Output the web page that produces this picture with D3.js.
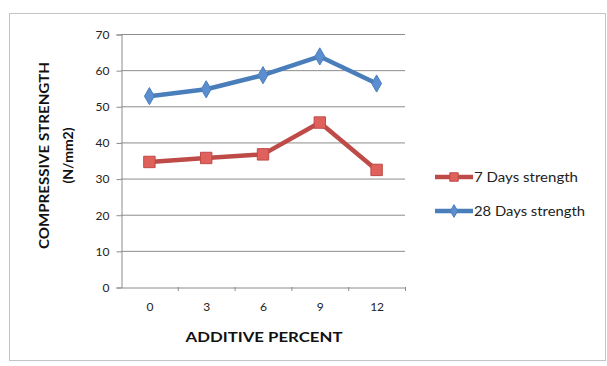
<!DOCTYPE html>
<html>
<head>
<meta charset="utf-8">
<script src="https://cdn.jsdelivr.net/npm/d3@7"></script>
<style>
  body { margin: 0; background: #fff; }
  svg { display: block; font-family: Lato, "Open Sans", sans-serif; }
</style>
</head>
<body>
<script>
const categories = ['0', '3', '6', '9', '12'];
const days7 = [34.6, 35.7, 36.7, 45.5, 32.4];
const days28 = [52.8, 54.7, 58.6, 63.8, 56.3];
const yTicks = [0, 10, 20, 30, 40, 50, 60, 70];

const width = 607, height = 366;
const margin = {top: 34, right: 202, bottom: 79, left: 121};

const svg = d3.select('body').append('svg')
  .attr('width', width)
  .attr('height', height);

// outer chart frame
svg.append('rect')
  .attr('x', 9.5).attr('y', 13.5)
  .attr('width', 596).attr('height', 347)
  .attr('fill', 'none')
  .attr('stroke', '#c4c4c4');

let x = d3.scaleBand()
  .domain(categories)
  .range([margin.left, width - margin.right]);

let y = d3.scaleLinear()
  .domain([0, 70])
  .range([height - margin.bottom, margin.top]);

// gridlines
svg.append('g')
  .selectAll('line')
  .data(yTicks.slice(1))
  .join('line')
    .attr('x1', margin.left).attr('x2', width - margin.right)
    .attr('y1', d => y(d) + 0.5).attr('y2', d => y(d) + 0.5)
    .attr('stroke', '#8c8c8c');

let yAxis = g => g
  .attr('transform', `translate(${margin.left + 0.5},0.5)`)
  .call(d3.axisLeft(y).tickValues(yTicks).tickSize(5).tickPadding(7))
  .call(g => g.select('.domain').attr('stroke', '#8c8c8c'))
  .call(g => g.selectAll('.tick line').attr('stroke', '#8c8c8c'))
  .call(g => g.selectAll('text').attr('font-size', 12).attr('fill', '#222').attr('font-family', 'Lato'));

let xAxis = g => g
  .attr('transform', `translate(0.5,${height - margin.bottom + 0.5})`)
  .call(d3.axisBottom(x).tickSize(0).tickPadding(15).tickSizeOuter(0))
  .call(g => g.select('.domain').attr('stroke', '#8c8c8c'))
  .call(g => g.selectAll('text').attr('font-size', 12).attr('fill', '#222').attr('font-family', 'Lato'));

svg.append('g').call(xAxis);
svg.append('g').call(yAxis);

// x tick marks at band edges
svg.append('g')
  .selectAll('line')
  .data(categories.slice(1).concat(['end']))
  .join('line')
    .attr('x1', d => (d === 'end' ? x.range()[1] : x(d)) + 0.5)
    .attr('x2', d => (d === 'end' ? x.range()[1] : x(d)) + 0.5)
    .attr('y1', y(0)).attr('y2', y(0) + 4)
    .attr('stroke', '#8c8c8c');

// axis titles
svg.append('text')
  .attr('x', 264)
  .attr('y', 342)
  .attr('text-anchor', 'middle')
  .attr('font-size', 14)
  .attr('font-weight', 'bold')
  .attr('fill', '#111')
  .attr('textLength', 157)
  .attr('lengthAdjust', 'spacingAndGlyphs')
  .text('ADDITIVE PERCENT');

const yTitle = svg.append('g')
  .attr('transform', `translate(0,${(y(0) + y(70)) / 2 - 5}) rotate(-90)`);
yTitle.append('text')
  .attr('x', 0).attr('y', 49)
  .attr('text-anchor', 'middle')
  .attr('font-size', 14)
  .attr('font-weight', 'bold')
  .attr('fill', '#111')
  .attr('textLength', 187)
  .attr('lengthAdjust', 'spacingAndGlyphs')
  .text('COMPRESSIVE STRENGTH');
yTitle.append('text')
  .attr('x', 0).attr('y', 73)
  .attr('text-anchor', 'middle')
  .attr('font-size', 14)
  .attr('font-weight', 'bold')
  .attr('fill', '#111')
  .text('(N/mm2)');

const series = [
  {name: '7 Days strength', values: days7, color: '#be4b48', fill: '#e0605b', marker: d3.symbolSquare, size: 130, ly: 177, tl: 104},
  {name: '28 Days strength', values: days28, color: '#4a7ebb', fill: '#5a8ed0', marker: d3.symbolDiamond, size: 85, ly: 211, tl: 111}
];

const line = d3.line()
  .x((d, i) => x(categories[i]) + x.bandwidth() / 2)
  .y(d => y(d));

series.forEach(s => {
  svg.append('path')
    .datum(s.values)
    .attr('d', line)
    .attr('fill', 'none')
    .attr('stroke', s.color)
    .attr('stroke-width', 4.5)
    .attr('stroke-linejoin', 'round');

  svg.append('g')
    .selectAll('path')
    .data(s.values)
    .join('path')
      .attr('d', d3.symbol().type(s.marker).size(s.size))
      .attr('transform', (d, i) => `translate(${x(categories[i]) + x.bandwidth() / 2},${y(d)})`)
      .attr('fill', s.fill)
      .attr('stroke', s.color)
      .attr('stroke-width', 1);

  // legend
  svg.append('line')
    .attr('x1', 435).attr('x2', 473)
    .attr('y1', s.ly).attr('y2', s.ly)
    .attr('stroke', s.color)
    .attr('stroke-width', 4.5);
  svg.append('path')
    .attr('d', d3.symbol().type(s.marker).size(s.size * 0.55))
    .attr('transform', `translate(454,${s.ly})`)
    .attr('fill', s.fill)
    .attr('stroke', s.color);
  svg.append('text')
    .attr('x', 474).attr('y', s.ly + 4.5)
    .attr('font-size', 12.5)
    .attr('fill', '#222')
    .attr('textLength', s.tl)
    .attr('lengthAdjust', 'spacingAndGlyphs')
    .text(s.name);
});
</script>
</body>
</html>
